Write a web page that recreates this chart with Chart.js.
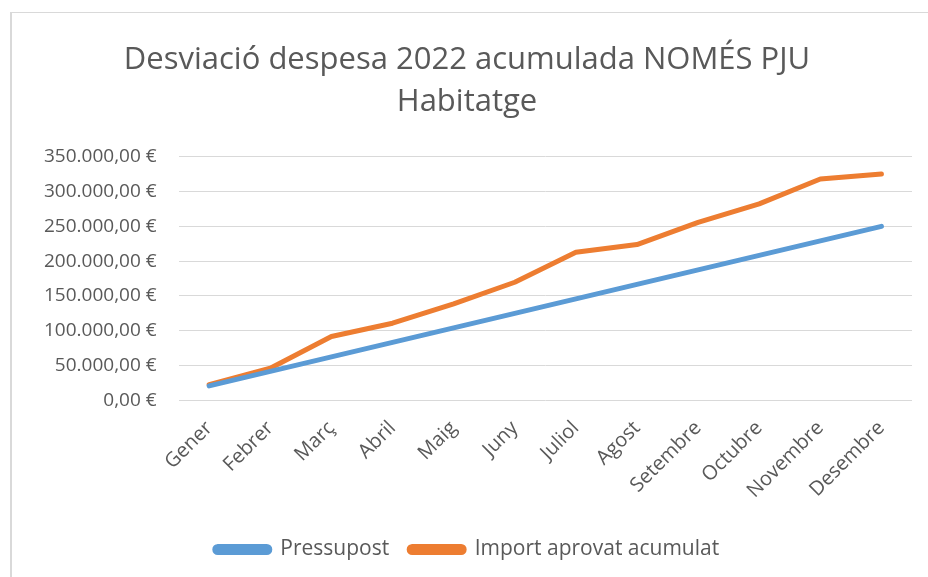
<!DOCTYPE html>
<html>
<head>
<meta charset="utf-8">
<script src="https://cdn.jsdelivr.net/npm/chart.js@4"></script>
<style>
    html, body { margin: 0; padding: 0; background: #fff; }
    #frame {
        position: absolute; left: 10px; top: 12px; width: 940px; height: 600px;
        border-left: 2px solid #d9d9d9; border-top: 1px solid #d9d9d9;
    }
    #wrap { position: absolute; left: 0; top: 0; width: 928px; height: 577px; }
</style>
</head>
<body>
<div id="frame"></div>
<div id="wrap"><canvas id="despesaChart"></canvas></div>
<script>
const months = ['Gener', 'Febrer', 'Març', 'Abril', 'Maig', 'Juny', 'Juliol', 'Agost', 'Setembre', 'Octubre', 'Novembre', 'Desembre'];
const pressupost = [20833, 41667, 62500, 83333, 104167, 125000, 145833, 166667, 187500, 208333, 229167, 250000];
const importAprovat = [22500, 46300, 91800, 110900, 138700, 169700, 212800, 223800, 255800, 282200, 318000, 325200];
const titleLines = ['Desviació despesa 2022 acumulada NOMÉS PJU', 'Habitatge'];

const FONT = '"Open Sans", sans-serif';
const GREY = '#595959';

document.addEventListener('DOMContentLoaded', function () {
    renderDespesaChart();
});

/**
 * Format 350000 -> "350.000,00 €"
 */
function formatEuro(v) {
    const s = Math.round(v).toString().replace(/\B(?=(\d{3})+(?!\d))/g, '.');
    return s + ',00 €';
}

function renderDespesaChart() {
    const ctx = document.getElementById('despesaChart').getContext('2d');
    new Chart(ctx, {
        type: 'line',
        data: {
            labels: months,
            datasets: [{
                label: 'Pressupost',
                data: pressupost,
                borderColor: '#5B9BD5',
                backgroundColor: '#5B9BD5',
                borderWidth: 5,
                pointRadius: 0,
                borderCapStyle: 'round',
                borderJoinStyle: 'round',
                tension: 0
            }, {
                label: 'Import aprovat acumulat',
                data: importAprovat,
                borderColor: '#ED7D31',
                backgroundColor: '#ED7D31',
                borderWidth: 5,
                pointRadius: 0,
                borderCapStyle: 'round',
                borderJoinStyle: 'round',
                tension: 0
            }]
        },
        options: {
            responsive: true,
            maintainAspectRatio: false,
            animation: false,
            layout: { padding: { left: 22, right: 16, top: 16, bottom: 7 } },
            scales: {
                x: {
                    offset: true,
                    grid: { display: false, drawTicks: false },
                    border: { display: false },
                    ticks: {
                        color: GREY,
                        font: { family: FONT, size: 20 },
                        maxRotation: 45,
                        minRotation: 45,
                        padding: 16,
                        autoSkip: false
                    }
                },
                y: {
                    min: 0,
                    max: 350000,
                    grid: { color: '#d9d9d9', lineWidth: 1, drawTicks: false },
                    border: { display: false },
                    ticks: {
                        stepSize: 50000,
                        color: GREY,
                        font: { family: FONT, size: 19 },
                        padding: 22,
                        callback: formatEuro
                    }
                }
            },
            plugins: {
                title: {
                    display: true,
                    text: titleLines,
                    color: GREY,
                    font: { family: FONT, size: 31, weight: 'normal', lineHeight: 1.35 },
                    padding: { top: 23, bottom: 34 }
                },
                legend: {
                    position: 'bottom',
                    labels: {
                        color: GREY,
                        font: { family: FONT, size: 21 },
                        boxWidth: 55,
                        boxHeight: 6,
                        useBorderRadius: true,
                        borderRadius: 3,
                        padding: 20
                    }
                },
                tooltip: { enabled: false }
            }
        }
    });
}
</script>
</body>
</html>
